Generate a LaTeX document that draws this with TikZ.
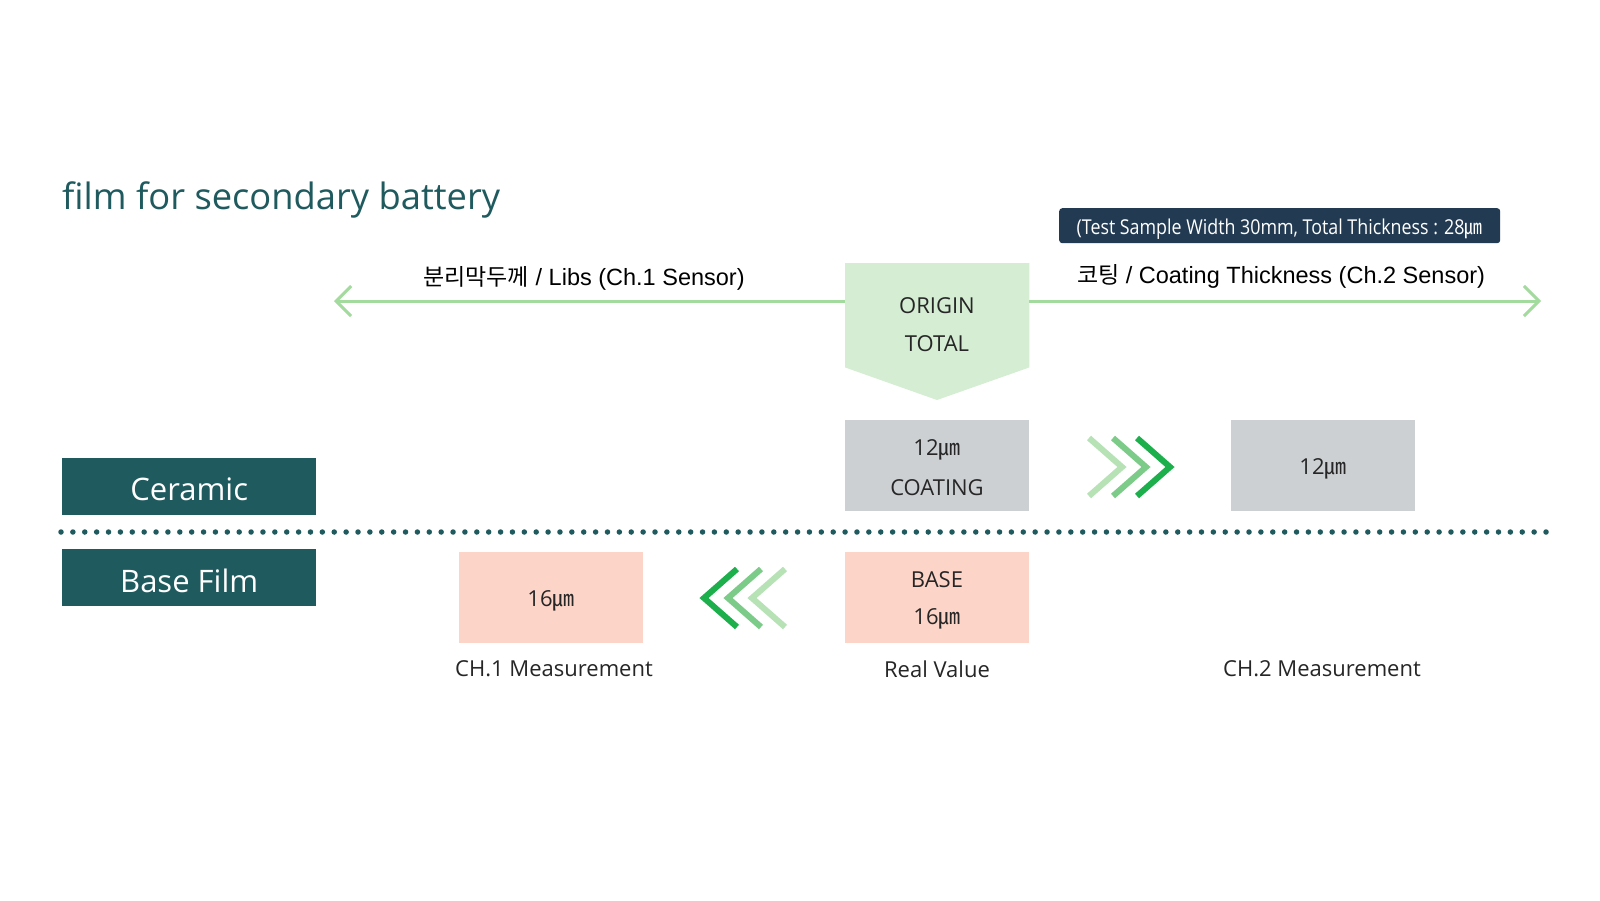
\documentclass[tikz,border=0pt]{standalone}
\usepackage{fontspec}
\setmainfont{Open Sans}
\newfontfamily\krfont{Noto Sans CJK KR}
\newfontfamily\arfont{Liberation Sans}
\newcommand\um{{\krfont ㎛}}
\newcommand\fs[1]{\fontsize{#1}{#1}\selectfont}
\usetikzlibrary{arrows.meta}
\definecolor{teal}{HTML}{1F5A5F}
\definecolor{navy}{HTML}{223B53}
\definecolor{originfill}{HTML}{D5EED3}
\definecolor{grayfill}{HTML}{CDD0D3}
\definecolor{pinkfill}{HTML}{FDD5C8}
\definecolor{arrgreen}{HTML}{A3DA9E}
\definecolor{gdark}{HTML}{1DAF4B}
\definecolor{gmid}{HTML}{7DCB88}
\definecolor{glight}{HTML}{B6E2B6}
\definecolor{txt}{HTML}{262626}
\tikzset{
  layerbox/.style={fill=teal, text=white, minimum width=254, minimum height=57, inner sep=0, anchor=north west},
  boxbg/.style={minimum width=184, minimum height=91, inner sep=0, anchor=north west},
  valtext/.style={text=txt, font=\fs{22}, align=center, inner sep=0},
  caption/.style={text=txt, font=\fs{22}},
  sensorlabel/.style={text=black, font=\arfont\fs{23.5}},
  arrline/.style={draw=arrgreen, line width=3pt, -{Straight Barb[length=15pt,width=30pt,line width=3pt]}},
  chev/.style={line width=6pt, line cap=butt, line join=miter},
  dotline/.style={draw=teal, line width=5.5pt, line cap=round, dash pattern=on 0pt off 11.88pt}
}
\begin{document}
\begin{tikzpicture}[x=1pt,y=-1pt]
\useasboundingbox[fill=white] (0,0) rectangle (1600,900);

% title
\node[anchor=base west, text=teal, font=\fs{36.3}, inner sep=0] (title) at (62,209) {film for secondary battery};

% test sample box
\node[fill=navy, rounded corners=3pt, minimum width=441, minimum height=35, inner sep=0, anchor=north west] (sample) at (1059,208) {};
\node[text=white, inner sep=0] (sampletxt) at (1279.5,229) {\fs{20.5}\scalebox{0.87}[1]{(Test Sample Width 30mm, Total Thickness : 28\um}};

% origin pentagon
\node[minimum width=184, minimum height=104, inner sep=0, anchor=north west] (origin) at (845,263) {};
\fill[originfill] (origin.north west) -- (origin.north east) -- (origin.south east) -- (937,400) -- (origin.south west) -- cycle;
\node[valtext] (o1) at (937,306) {ORIGIN};
\node[valtext] (o2) at (937,344) {TOTAL};

% sensor arrows
\coordinate (lend) at (334,301);
\coordinate (rend) at (1541,301);
\draw[arrline] (origin.west |- lend) -- (lend);
\draw[arrline] (origin.east |- rend) -- (rend);
\node[sensorlabel] (lab1) at (584,278) {{\krfont\fs{23}분리막두께} / Libs (Ch.1 Sensor)};
\node[sensorlabel] (lab2) at (1281,276) {{\krfont\fs{23}코팅} / Coating Thickness (Ch.2 Sensor)};

% layer labels
\node[layerbox] (ceramic) at (62,458) {};
\node[text=white, font=\fs{31}, inner sep=0] (ceramictxt) at (ceramic.center) [yshift=-3pt] {Ceramic};
\node[layerbox] (basefilm) at (62,549) {};
\node[text=white, font=\fs{31}, inner sep=0] (basefilmtxt) at (basefilm.center) [yshift=-3pt] {Base Film};

% dotted separator
\coordinate (dl) at (61,532);
\coordinate (dr) at (1546.2,532);
\draw[dotline] (dl) -- (dr);

% ceramic row
\node[boxbg, fill=grayfill] (coat) at (845,420) {};
\node[valtext] (coat1t) at (937,450) {12\um};
\node[valtext] (coat2t) at (937,488) {COATING};
\node[boxbg, fill=grayfill] (coat2) at (1231,420) {};
\node[valtext] (coat3t) at (1323,469) {12\um};

% base row
\node[boxbg, fill=pinkfill] (base1) at (459,552) {};
\node[valtext] (base1t) at (551,601) {16\um};
\node[boxbg, fill=pinkfill] (base) at (845,552) {};
\node[valtext] (base2t) at (937,580) {BASE};
\node[valtext] (base3t) at (937,619) {16\um};

% captions
\node[caption] (c1) at (554,669) {CH.1 Measurement};
\node[caption] (c2) at (937,669) {Real Value};
\node[caption] (c3) at (1322,669) {CH.2 Measurement};

% right chevrons
\draw[chev, draw=glight] (1089,438) -- (1122,467) -- (1089,496);
\draw[chev, draw=gmid] (1113,438) -- (1146,467) -- (1113,496);
\draw[chev, draw=gdark] (1137,438) -- (1170,467) -- (1137,496);

% left chevrons
\draw[chev, draw=gdark] (737,569) -- (704,598) -- (737,627);
\draw[chev, draw=gmid] (761,569) -- (728,598) -- (761,627);
\draw[chev, draw=glight] (785,569) -- (752,598) -- (785,627);
\end{tikzpicture}
\end{document}
